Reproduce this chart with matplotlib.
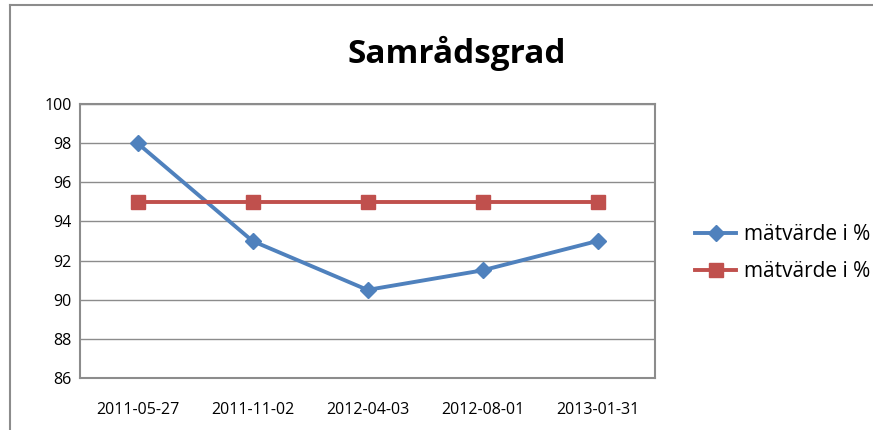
import matplotlib.pyplot as plt
from matplotlib.lines import Line2D

plt.rcParams['font.family'] = ['Open Sans', 'DejaVu Sans']

datum = ["2011-05-27", "2011-11-02", "2012-04-03", "2012-08-01", "2013-01-31"]
matvarde = [98, 93, 90.5, 91.5, 93]
mal = [95, 95, 95, 95, 95]
serienamn = ["mätvärde i %", "mätvärde i %"]
y_ticks = [86, 88, 90, 92, 94, 96, 98, 100]

W, H = 873, 430
fig = plt.figure(figsize=(W / 100, H / 100), dpi=100)
ax = fig.add_axes([80 / W, 1 - 378 / H, 575 / W, 274 / H])

x = list(range(len(datum)))
ax.plot(x, matvarde, color="#4F81BD", lw=2.8, marker="D", ms=8,
        label=serienamn[0], zorder=3)
ax.plot(x, mal, color="#C0504D", lw=2.8, marker="s", ms=10,
        label=serienamn[1], zorder=3)

ax.set_xlim(-0.5, len(datum) - 0.5)
ax.set_ylim(86, 100)
ax.set_yticks(y_ticks)
ax.set_xticks(x)
ax.set_xticklabels(datum, fontsize=11.5)
ax.tick_params(axis="x", length=0, pad=17)
ax.tick_params(axis="y", length=0, pad=6, labelsize=11.5)
ax.grid(axis="y", color="#8c8c8c", lw=1)
ax.set_axisbelow(True)
for s in ax.spines.values():
    s.set_color("#8c8c8c")
    s.set_linewidth(1.5)

fig.text(457 / W, 1 - 53 / H, "Samrådsgrad", ha="center", va="center",
         fontsize=24, fontweight="bold")

ax.legend(loc="center left", bbox_to_anchor=(676 / W, 1 - 253 / H),
          bbox_transform=fig.transFigure, frameon=False, fontsize=15,
          handlelength=2.0, labelspacing=0.75, handletextpad=0.35)

# ram runt diagrammet (beskuren i bilden)
fig.add_artist(Line2D([10 / W, 10 / W], [0, 1 - 5 / H], color="#8c8c8c", lw=1.5))
fig.add_artist(Line2D([10 / W, 1], [1 - 5 / H, 1 - 5 / H], color="#8c8c8c", lw=1.5))

fig.savefig("out.png", dpi=100)
